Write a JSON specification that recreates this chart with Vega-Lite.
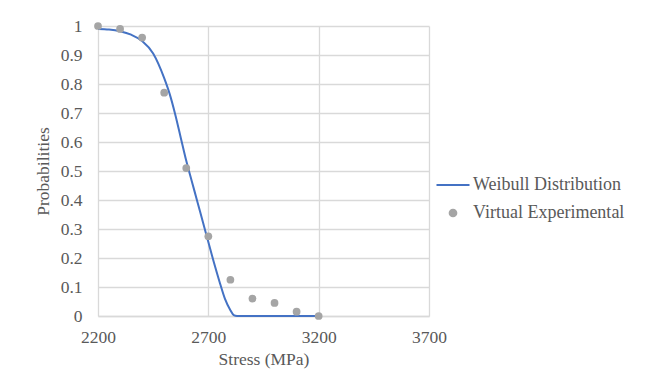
{
  "$schema": "https://vega.github.io/schema/vega-lite/v6.json",
  "autosize": {"type": "none"},
  "width": 331,
  "height": 290,
  "padding": {"left": 98, "top": 26, "right": 220, "bottom": 65},
  "background": "white",
  "config": {
    "view": {"stroke": null},
    "font": "Liberation Serif",
    "axis": {"labelFont": "Liberation Serif", "titleFont": "Liberation Serif", "labelColor": "#595959", "titleColor": "#595959", "labelFontSize": 17.5, "titleFontSize": 17.5, "titleFontWeight": "normal", "gridColor": "#d9d9d9", "gridWidth": 1.3, "ticks": false},
    "legend": {"labelFont": "Liberation Serif", "labelFontSize": 18, "labelColor": "#595959"}
  },
  "datasets": {
    "curve": [
      {"stress": 2200, "p": 0.99, "series": "Weibull Distribution"},
      {"stress": 2250, "p": 0.988, "series": "Weibull Distribution"},
      {"stress": 2300, "p": 0.982, "series": "Weibull Distribution"},
      {"stress": 2350, "p": 0.97, "series": "Weibull Distribution"},
      {"stress": 2400, "p": 0.948, "series": "Weibull Distribution"},
      {"stress": 2450, "p": 0.905, "series": "Weibull Distribution"},
      {"stress": 2500, "p": 0.82, "series": "Weibull Distribution"},
      {"stress": 2525, "p": 0.765, "series": "Weibull Distribution"},
      {"stress": 2550, "p": 0.695, "series": "Weibull Distribution"},
      {"stress": 2575, "p": 0.615, "series": "Weibull Distribution"},
      {"stress": 2600, "p": 0.535, "series": "Weibull Distribution"},
      {"stress": 2625, "p": 0.465, "series": "Weibull Distribution"},
      {"stress": 2650, "p": 0.395, "series": "Weibull Distribution"},
      {"stress": 2675, "p": 0.325, "series": "Weibull Distribution"},
      {"stress": 2700, "p": 0.255, "series": "Weibull Distribution"},
      {"stress": 2725, "p": 0.185, "series": "Weibull Distribution"},
      {"stress": 2750, "p": 0.12, "series": "Weibull Distribution"},
      {"stress": 2775, "p": 0.06, "series": "Weibull Distribution"},
      {"stress": 2800, "p": 0.02, "series": "Weibull Distribution"},
      {"stress": 2815, "p": 0.003, "series": "Weibull Distribution"},
      {"stress": 2830, "p": 0.0, "series": "Weibull Distribution"},
      {"stress": 3000, "p": 0.0, "series": "Weibull Distribution"},
      {"stress": 3200, "p": 0.0, "series": "Weibull Distribution"}
    ],
    "points": [
      {"stress": 2200, "p": 1.0, "series": "Virtual Experimental"},
      {"stress": 2300, "p": 0.99, "series": "Virtual Experimental"},
      {"stress": 2400, "p": 0.96, "series": "Virtual Experimental"},
      {"stress": 2500, "p": 0.77, "series": "Virtual Experimental"},
      {"stress": 2600, "p": 0.51, "series": "Virtual Experimental"},
      {"stress": 2700, "p": 0.275, "series": "Virtual Experimental"},
      {"stress": 2800, "p": 0.125, "series": "Virtual Experimental"},
      {"stress": 2900, "p": 0.06, "series": "Virtual Experimental"},
      {"stress": 3000, "p": 0.045, "series": "Virtual Experimental"},
      {"stress": 3100, "p": 0.015, "series": "Virtual Experimental"},
      {"stress": 3200, "p": 0.0, "series": "Virtual Experimental"}
    ]
  },
  "encoding": {
    "x": {"field": "stress", "type": "quantitative", "title": "Stress (MPa)",
      "scale": {"domain": [2200, 3700], "nice": false, "zero": false},
      "axis": {"values": [2200, 2700, 3200, 3700], "format": "d", "labelPadding": 12, "titlePadding": 5, "domainColor": "#d9d9d9", "domainWidth": 1.3, "labelFlush": false}},
    "y": {"field": "p", "type": "quantitative", "title": "Probabilities",
      "scale": {"domain": [0, 1], "nice": false},
      "axis": {"values": [0, 0.1, 0.2, 0.3, 0.4, 0.5, 0.6, 0.7, 0.8, 0.9, 1], "format": "~g", "labelPadding": 16, "titlePadding": 8, "domain": false, "labelFlush": false}},
    "color": {"field": "series", "type": "nominal",
      "scale": {"domain": ["Weibull Distribution", "Virtual Experimental"], "range": ["#4472c4", "#a5a5a5"]},
      "legend": {"title": null, "orient": "none", "legendX": 346, "legendY": 150, "rowPadding": 10, "labelOffset": 11, "symbolType": "circle",
        "encode": {"symbols": {"update": {
          "shape": {"signal": "datum.value === 'Weibull Distribution' ? 'stroke' : 'circle'"},
          "size": {"signal": "datum.value === 'Weibull Distribution' ? 1089 : 45"},
          "stroke": {"signal": "datum.value === 'Weibull Distribution' ? '#4472c4' : null"},
          "strokeWidth": {"value": 2},
          "fill": {"signal": "datum.value === 'Weibull Distribution' ? null : '#a5a5a5'"},
          "opacity": {"value": 1},
          "fillOpacity": {"value": 1}
        }}}}
    }
  },
  "layer": [
    {"data": {"name": "curve"}, "mark": {"type": "line", "strokeWidth": 2, "interpolate": "monotone"}},
    {"data": {"name": "points"}, "mark": {"type": "circle", "size": 60, "opacity": 1}}
  ]
}
